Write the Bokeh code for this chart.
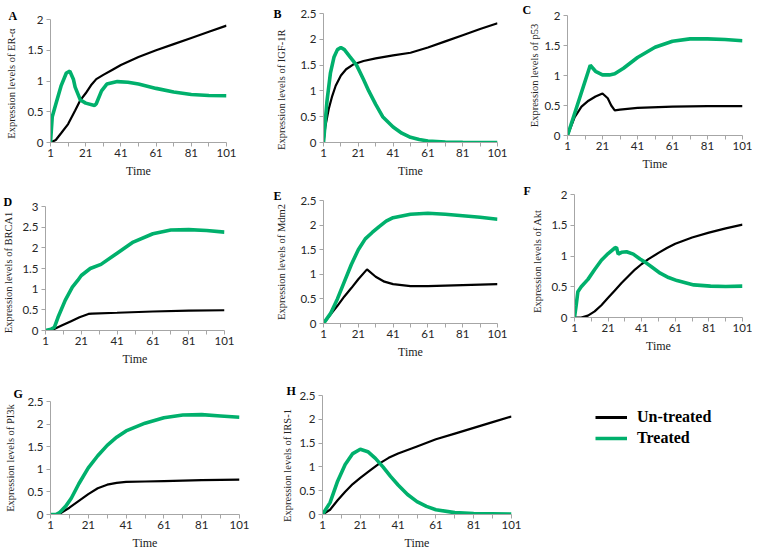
from bokeh.plotting import figure
from bokeh.layouts import column, row
from bokeh.models import Range1d, FixedTicker, Legend, LegendItem, NumeralTickFormatter
from bokeh.embed import file_html
from bokeh.resources import INLINE

# ---------------- data ----------------
x_ticks = [1, 21, 41, 61, 81, 101]
x_minor = [11, 31, 51, 71, 91]
series_names = ["Un-treated", "Treated"]

# A: ER-alpha
tA_u = [1, 4, 7, 11, 15, 18, 21, 24, 27, 31, 36, 41, 51, 61, 71, 81, 91, 101]
vA_u = [0, 0.04, 0.15, 0.3, 0.52, 0.69, 0.8, 0.93, 1.03, 1.1, 1.18, 1.26, 1.39, 1.5, 1.6, 1.7, 1.8, 1.9]
tA_t = [1, 2, 4, 7, 10, 12, 14, 15, 18, 21, 26, 27, 30, 33, 39, 45, 51, 61, 71, 81, 91, 101]
vA_t = [0, 0.42, 0.62, 0.92, 1.13, 1.16, 1.03, 0.9, 0.69, 0.64, 0.6, 0.63, 0.84, 0.95, 0.99, 0.98, 0.95, 0.88, 0.82, 0.78, 0.765, 0.76]

# B: IGF-1R
tB_u = [1, 2, 4, 6, 8, 11, 14, 18, 24, 31, 41, 51, 61, 71, 81, 91, 101]
vB_u = [0, 0.3, 0.65, 0.9, 1.1, 1.3, 1.42, 1.51, 1.58, 1.63, 1.69, 1.74, 1.84, 1.96, 2.08, 2.2, 2.31]
tB_t = [1, 3, 5, 7, 9, 11, 13, 16, 20, 24, 27, 31, 35, 41, 46, 51, 56, 61, 71, 81, 101]
vB_t = [0, 0.8, 1.35, 1.65, 1.8, 1.84, 1.8, 1.67, 1.5, 1.22, 1.0, 0.74, 0.5, 0.3, 0.18, 0.1, 0.06, 0.03, 0.01, 0.005, 0.0]

# C: p53
tC_u = [1, 5, 9, 13, 17, 21, 24, 26, 28, 31, 41, 61, 81, 101]
vC_u = [0, 0.3, 0.48, 0.58, 0.65, 0.7, 0.62, 0.5, 0.42, 0.43, 0.46, 0.48, 0.49, 0.49]
tC_t = [1, 14, 17, 21, 25, 28, 33, 41, 51, 61, 71, 81, 91, 101]
vC_t = [0, 1.17, 1.07, 1.01, 1.01, 1.03, 1.12, 1.3, 1.47, 1.57, 1.61, 1.61, 1.6, 1.58]

# D: BRCA1
tD_u = [1, 5, 10, 15, 20, 25, 27, 41, 61, 81, 101]
vD_u = [0, 0.02, 0.12, 0.22, 0.32, 0.4, 0.41, 0.43, 0.46, 0.48, 0.49]
tD_t = [1, 4, 6, 8, 12, 16, 19, 21, 26, 32, 41, 50, 61, 71, 81, 91, 101]
vD_t = [0, 0.03, 0.08, 0.32, 0.73, 1.05, 1.21, 1.33, 1.5, 1.6, 1.87, 2.14, 2.34, 2.43, 2.44, 2.42, 2.38]

# E: Mdm2
tE_u = [1, 5, 9, 13, 17, 21, 26, 31, 36, 41, 51, 61, 71, 81, 101]
vE_u = [0, 0.18, 0.36, 0.55, 0.72, 0.9, 1.1, 0.95, 0.85, 0.8, 0.76, 0.76, 0.77, 0.78, 0.8]
tE_t = [1, 5, 9, 13, 17, 21, 25, 29, 33, 37, 41, 51, 61, 71, 81, 91, 101]
vE_t = [0, 0.2, 0.5, 0.85, 1.2, 1.5, 1.72, 1.85, 1.97, 2.08, 2.15, 2.22, 2.24, 2.22, 2.19, 2.16, 2.12]

# F: Akt
tF_u = [1, 5, 9, 13, 17, 21, 25, 29, 33, 37, 41, 45, 51, 56, 61, 71, 81, 91, 101]
vF_u = [0, 0.0, 0.03, 0.1, 0.2, 0.32, 0.44, 0.56, 0.67, 0.78, 0.87, 0.95, 1.05, 1.13, 1.2, 1.3, 1.38, 1.45, 1.51]
tF_t = [1, 2, 3, 5, 9, 13, 17, 21, 25, 26, 27, 29, 32, 36, 40, 43, 47, 52, 57, 62, 72, 82, 91, 101]
vF_t = [0, 0.2, 0.42, 0.5, 0.62, 0.78, 0.93, 1.04, 1.13, 1.14, 1.03, 1.06, 1.07, 1.03, 0.95, 0.9, 0.82, 0.72, 0.65, 0.6, 0.53, 0.51, 0.505, 0.51]

# G: PI3k
tG_u = [1, 6, 11, 16, 21, 26, 31, 36, 41, 51, 61, 81, 101]
vG_u = [0, 0.02, 0.15, 0.3, 0.45, 0.58, 0.66, 0.7, 0.72, 0.73, 0.74, 0.76, 0.77]
tG_t = [1, 4, 6, 9, 12, 16, 21, 26, 31, 36, 41, 51, 61, 71, 81, 91, 101]
vG_t = [0, 0.0, 0.05, 0.18, 0.36, 0.68, 1.03, 1.3, 1.53, 1.71, 1.85, 2.02, 2.14, 2.2, 2.21, 2.18, 2.15]

# H: IRS-1
tH_u = [1, 5, 9, 13, 17, 21, 26, 31, 36, 41, 51, 61, 71, 81, 91, 101]
vH_u = [0, 0.1, 0.3, 0.48, 0.64, 0.77, 0.92, 1.07, 1.19, 1.28, 1.43, 1.58, 1.7, 1.82, 1.94, 2.06]
tH_t = [1, 5, 9, 13, 17, 21, 25, 29, 33, 37, 41, 46, 51, 56, 61, 71, 81, 101]
vH_t = [0, 0.25, 0.7, 1.05, 1.28, 1.37, 1.32, 1.18, 1.0, 0.8, 0.62, 0.42, 0.27, 0.17, 0.1, 0.04, 0.02, 0.01]

# ---------------- styling ----------------
BLACK = "#000000"
GREEN = "#00b06c"
AXIS = "#a6a6a6"
TICK_FONT = "Lato"
SERIF = "Liberation Serif"
BLACK_W = 2.2
GREEN_W = 3.6
NBSP = "\u00a0"


def panel(letter, ylabel, ymax, tu, vu, tt, vt, width, height, borders, letter_pos, ylab_standoff,
          ylab_pad=0):
    L, R, T, B = borders
    p = figure(width=width, height=height, output_backend="svg", toolbar_location=None,
               x_range=Range1d(1, 101), y_range=Range1d(0, ymax),
               min_border_left=L, min_border_right=R, min_border_top=T, min_border_bottom=B)
    p.frame_align = False
    p.outline_line_color = None
    p.grid.visible = False
    p.background_fill_color = "white"
    p.border_fill_color = "white"

    p.line(tu, vu, line_color=BLACK, line_width=BLACK_W)
    p.line(tt, vt, line_color=GREEN, line_width=GREEN_W)

    xa = p.xaxis[0]
    xa.ticker = FixedTicker(ticks=x_ticks, minor_ticks=x_minor)
    xa.axis_label = "Time"
    ya = p.yaxis[0]
    nsteps = int(round(ymax / 0.5))
    ya.ticker = FixedTicker(ticks=[0.5 * i for i in range(nsteps + 1)], minor_ticks=[])
    ya.formatter = NumeralTickFormatter(format="0.[0]")
    ya.axis_label = ylabel + NBSP * ylab_pad
    for ax in (xa, ya):
        ax.axis_line_color = AXIS
        ax.major_tick_line_color = AXIS
        ax.minor_tick_line_color = AXIS
        ax.major_tick_out = 4
        ax.major_tick_in = 0
        ax.minor_tick_out = 4
        ax.minor_tick_in = 0
        ax.major_label_text_font = TICK_FONT
        ax.major_label_text_font_size = "11.5px"
        ax.major_label_text_color = "#262626"
        ax.major_label_standoff = 3
        ax.axis_label_text_font = SERIF
        ax.axis_label_text_font_style = "normal"
        ax.axis_label_text_color = "#222222"
    xa.axis_label_text_font_size = "12px"
    ya.axis_label_text_font_size = "10.5px"
    xa.major_label_standoff = 2
    xa.axis_label_standoff = 4
    ya.axis_label_standoff = ylab_standoff

    off, stand = letter_pos
    p.title.text = letter
    p.title.align = "left"
    p.title.offset = off
    p.title.standoff = stand
    p.title.text_font = SERIF
    p.title.text_font_style = "bold"
    p.title.text_font_size = "12px"
    p.title.text_color = "#000000"
    return p


pA = panel("A", "Expression levels of ER-α", 2, tA_u, vA_u, tA_t, vA_t,
           250, 180, (50, 24, 19, 37), (-42, -6), 7, ylab_pad=2)
pB = panel("B", "Expression levels of IGF-1R", 2.5, tB_u, vB_u, tB_t, vB_t,
           262, 180, (73, 15, 13, 38), (-50, -14), 10, ylab_pad=9)
pC = panel("C", "Expression levels of p53", 2, tC_u, vC_u, tC_t, vC_t,
           240, 180, (55, 10, 15, 45), (-45, -2), 1)

pD = panel("D", "Expression levels of BRCA1", 3, tD_u, vD_u, tD_t, vD_t,
           250, 190, (45, 26, 26, 40), (-42, -5), 5, ylab_pad=3)
pE = panel("E", "Expression levels of Mdm2", 2.5, tE_u, vE_u, tE_t, vE_t,
           262, 190, (73, 15, 20, 47), (-50, -5), 10)
pF = panel("F", "Expression levels of Akt", 2, tF_u, vF_u, tF_t, vF_t,
           240, 190, (62, 10, 14, 53), (-51, -6), 5, ylab_pad=4)

pG = panel("G", "Expression levels of PI3k", 2.5, tG_u, vG_u, tG_t, vG_t,
           250, 182, (50, 11, 31, 36), (-37, 2), 8)
pH = panel("H", "Expression levels of IRS-1", 2.5, tH_u, vH_u, tH_t, vH_t,
           275, 182, (72, 14, 25, 36), (-36, -5), 3, ylab_pad=8)

# legend panel: its own frame holds the key (series drawn outside its visible range)
pL = figure(width=227, height=182, output_backend="svg", toolbar_location=None,
            x_range=Range1d(-30, -20), y_range=Range1d(-30, -20),
            x_axis_location=None, y_axis_location=None,
            min_border_left=0, min_border_right=0, min_border_top=0, min_border_bottom=0)
pL.frame_align = False
pL.outline_line_color = None
pL.grid.visible = False
lu = pL.line(tH_u, vH_u, line_color=BLACK, line_width=BLACK_W + 0.6)
lt = pL.line(tH_t, vH_t, line_color=GREEN, line_width=GREEN_W)
legend = Legend(items=[LegendItem(label=series_names[0], renderers=[lu]),
                       LegendItem(label=series_names[1], renderers=[lt])],
                location=(70, 105), orientation="vertical",
                label_text_font=SERIF, label_text_font_style="bold",
                label_text_font_size="16px", label_text_color="#000000",
                glyph_width=32, glyph_height=16, label_height=16, label_standoff=10,
                spacing=3, padding=0, margin=0,
                border_line_color=None, background_fill_alpha=0)
pL.add_layout(legend, "center")

layout = column(row(pA, pB, pC), row(pD, pE, pF), row(pG, pH, pL))
open("out.html", "w").write(file_html(layout, INLINE))
